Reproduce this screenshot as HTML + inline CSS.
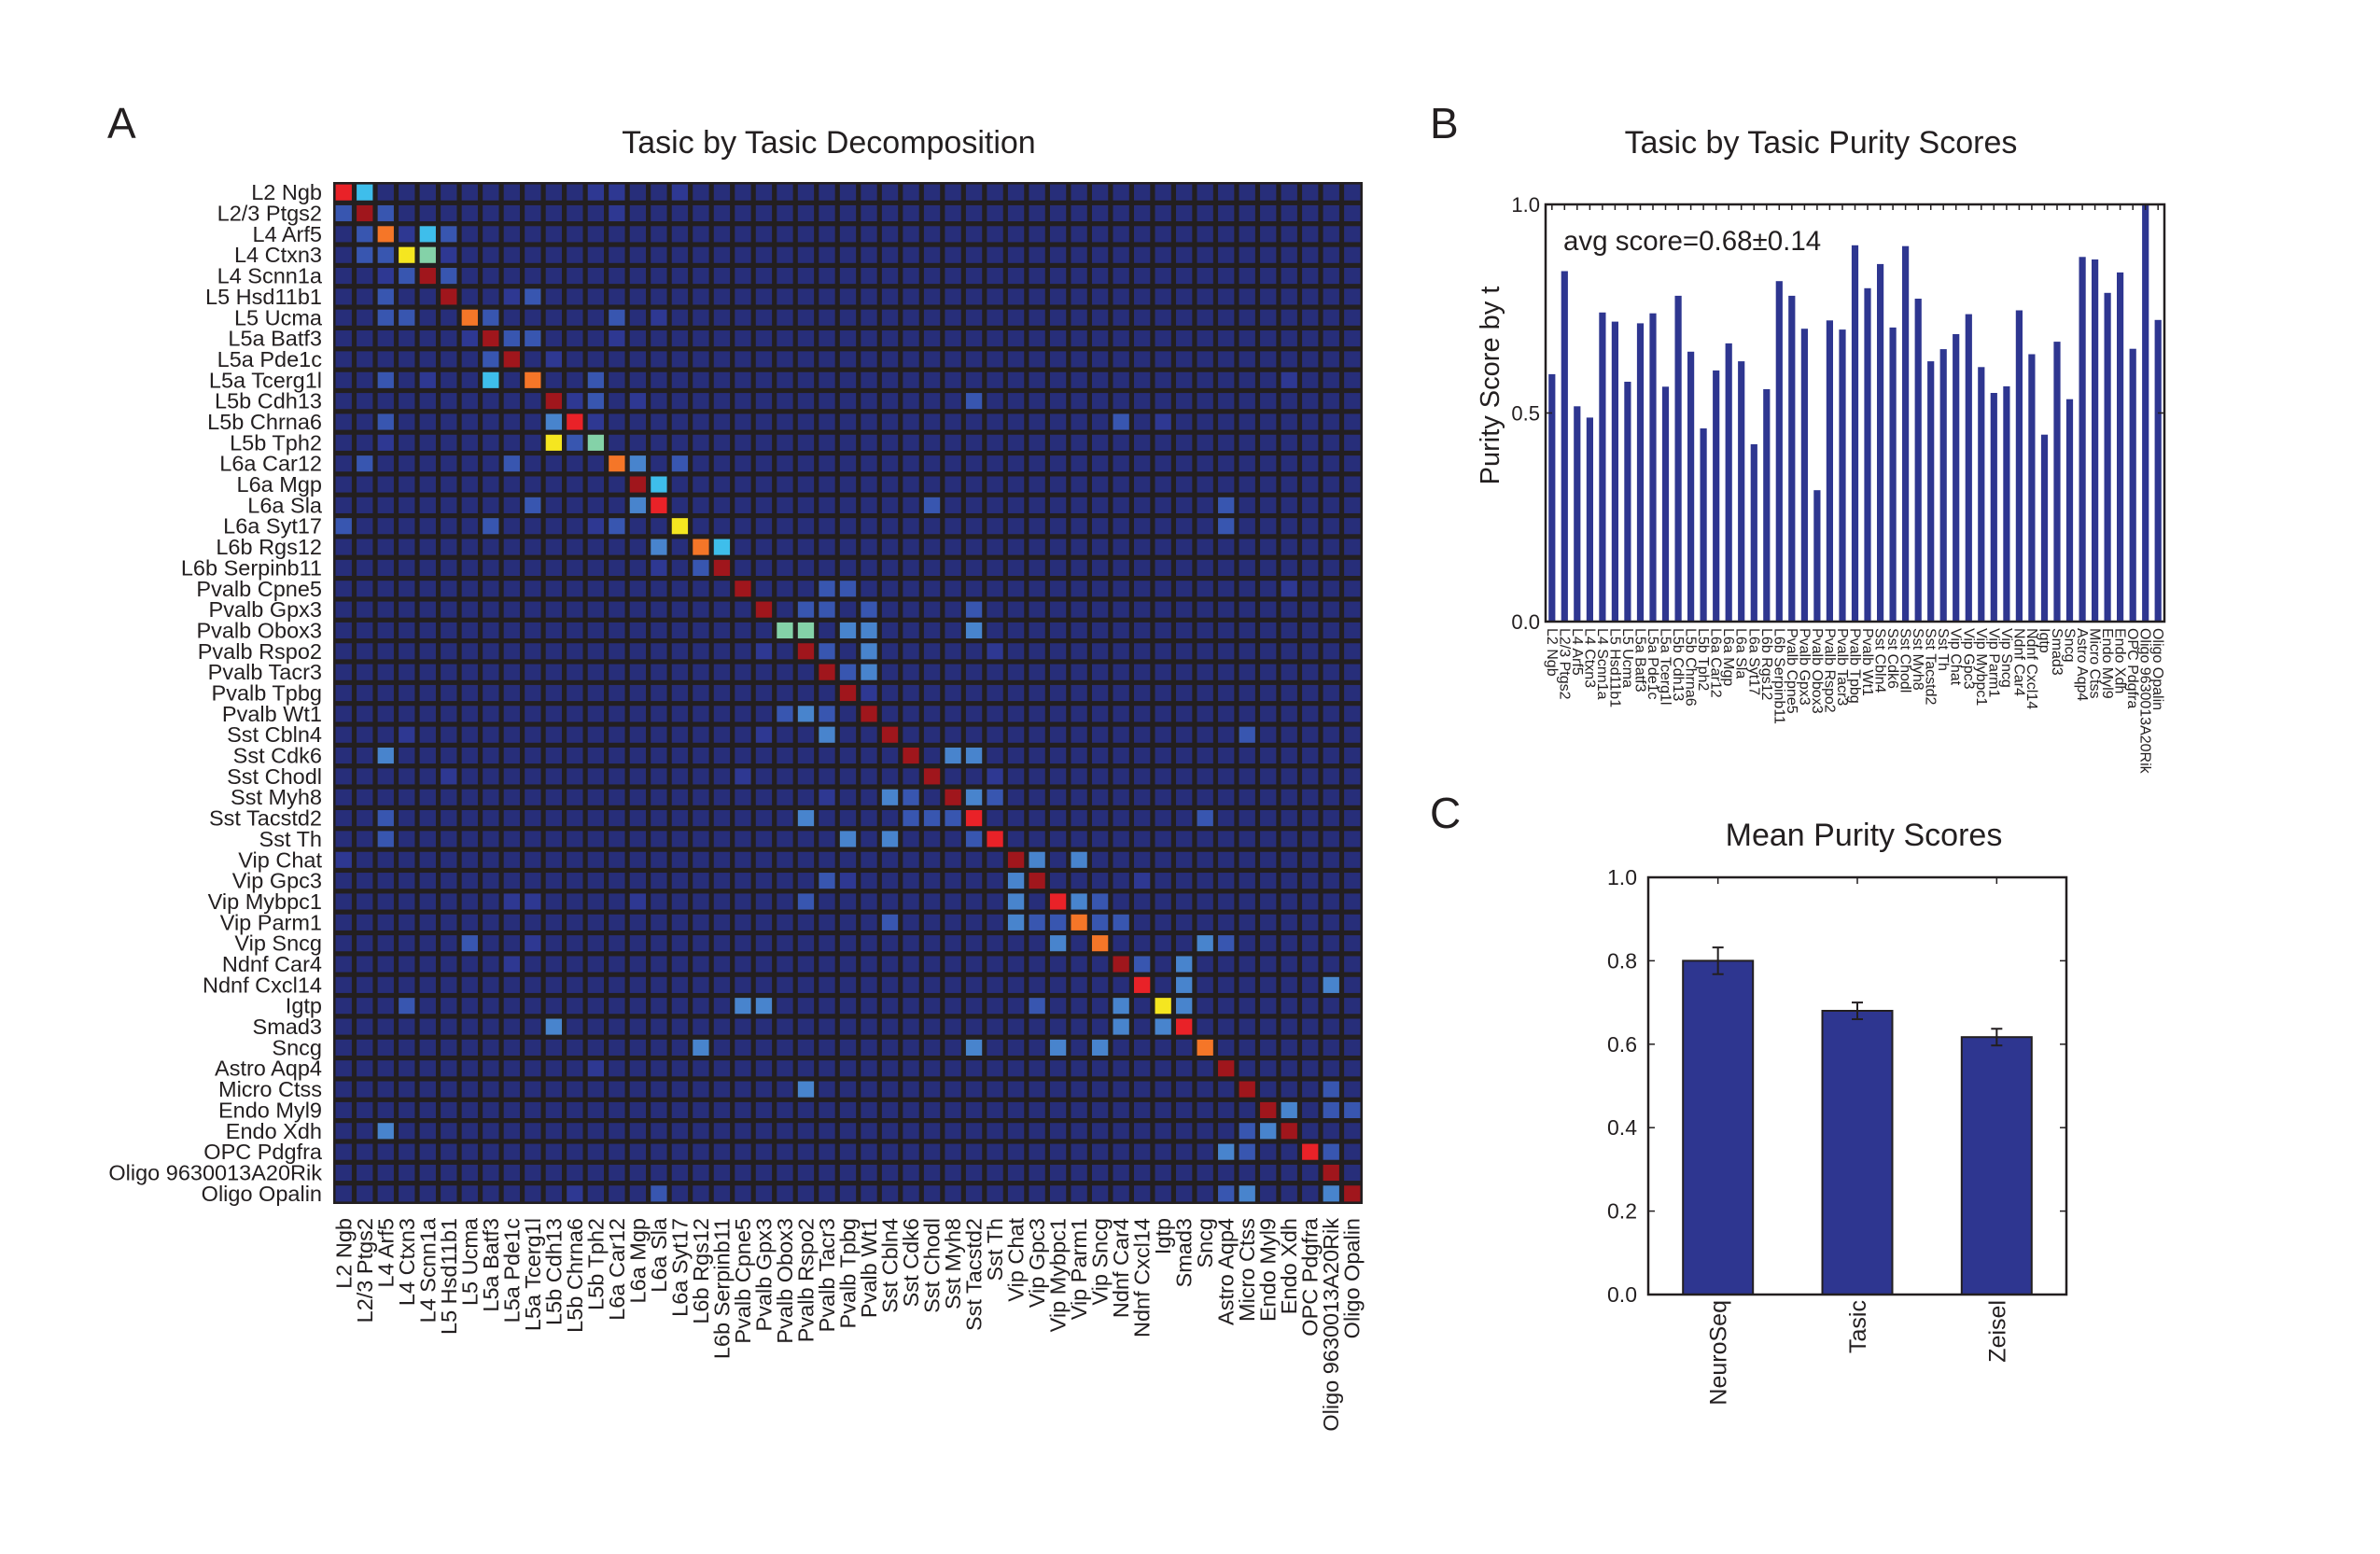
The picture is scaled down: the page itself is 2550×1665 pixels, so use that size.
<!DOCTYPE html>
<html><head><meta charset="utf-8"><style>
html,body{margin:0;padding:0;background:#fff;}
svg{display:block;font-family:"Liberation Sans",sans-serif;}
</style></head><body>
<svg id="fig" width="2550" height="1665" viewBox="0 0 2550 1665" xmlns="http://www.w3.org/2000/svg">
<text x="115" y="148" font-size="46" fill="#231f20">A</text>
<text x="1532" y="148" font-size="46" fill="#231f20">B</text>
<text x="1532" y="887" font-size="46" fill="#231f20">C</text>
<text x="888" y="164" font-size="34" text-anchor="middle" fill="#231f20">Tasic by Tasic Decomposition</text>
<text x="1951" y="164" font-size="34" text-anchor="middle" fill="#231f20">Tasic by Tasic Purity Scores</text>
<text x="1997" y="906" font-size="34" text-anchor="middle" fill="#231f20">Mean Purity Scores</text>
<g id="heat"></g>
<g id="barsB"></g>
<g id="barsC"></g>
</svg>
<script>
const categories = ["L2 Ngb","L2/3 Ptgs2","L4 Arf5","L4 Ctxn3","L4 Scnn1a","L5 Hsd11b1","L5 Ucma","L5a Batf3","L5a Pde1c","L5a Tcerg1l","L5b Cdh13","L5b Chrna6","L5b Tph2","L6a Car12","L6a Mgp","L6a Sla","L6a Syt17","L6b Rgs12","L6b Serpinb11","Pvalb Cpne5","Pvalb Gpx3","Pvalb Obox3","Pvalb Rspo2","Pvalb Tacr3","Pvalb Tpbg","Pvalb Wt1","Sst Cbln4","Sst Cdk6","Sst Chodl","Sst Myh8","Sst Tacstd2","Sst Th","Vip Chat","Vip Gpc3","Vip Mybpc1","Vip Parm1","Vip Sncg","Ndnf Car4","Ndnf Cxcl14","Igtp","Smad3","Sncg","Astro Aqp4","Micro Ctss","Endo Myl9","Endo Xdh","OPC Pdgfra","Oligo 9630013A20Rik","Oligo Opalin"];
// heatmap non-background cells: [row, col, level 0-9]
const heatCells = [
[0,0,8],[0,1,4],[0,12,1],[0,13,1],[0,16,1],
[1,0,2],[1,1,9],[1,2,2],[1,13,1],
[2,1,2],[2,2,7],[2,3,1],[2,4,4],[2,5,2],
[3,1,2],[3,2,2],[3,3,6],[3,4,5],[3,5,1],
[4,2,1],[4,3,2],[4,4,9],[4,5,2],
[5,2,2],[5,5,9],[5,8,1],[5,9,2],
[6,2,2],[6,3,2],[6,6,7],[6,7,2],[6,13,2],[6,15,1],
[7,6,1],[7,7,9],[7,8,2],[7,9,2],[7,13,1],
[8,7,2],[8,8,9],[8,10,1],
[9,2,2],[9,4,1],[9,7,4],[9,9,7],[9,12,2],[9,45,1],
[10,10,9],[10,11,1],[10,12,2],[10,14,1],[10,30,2],
[11,2,2],[11,10,3],[11,11,8],[11,12,1],[11,37,2],[11,39,1],
[12,2,1],[12,10,6],[12,11,2],[12,12,5],
[13,1,2],[13,8,2],[13,13,7],[13,14,3],[13,16,2],
[14,14,9],[14,15,4],
[15,9,2],[15,14,3],[15,15,8],[15,28,2],[15,42,2],
[16,0,2],[16,7,2],[16,12,1],[16,13,2],[16,16,6],[16,42,2],
[17,15,3],[17,17,7],[17,18,4],
[18,15,1],[18,17,2],[18,18,9],
[19,19,9],[19,23,2],[19,24,2],[19,45,1],
[20,20,9],[20,22,2],[20,23,2],[20,25,2],[20,30,2],
[21,21,5],[21,22,5],[21,24,3],[21,25,3],[21,30,3],
[22,20,1],[22,22,9],[22,23,2],[22,25,3],[22,31,1],
[23,23,9],[23,24,2],[23,25,3],
[24,24,9],[24,25,1],
[25,21,2],[25,22,3],[25,23,2],[25,25,9],
[26,3,1],[26,20,1],[26,23,3],[26,26,9],[26,43,2],
[27,2,3],[27,27,9],[27,29,3],[27,30,3],
[28,5,1],[28,19,1],[28,28,9],[28,31,1],
[29,23,1],[29,26,3],[29,27,2],[29,29,9],[29,30,3],[29,31,2],
[30,2,2],[30,22,3],[30,27,2],[30,28,2],[30,29,2],[30,30,8],[30,41,2],
[31,2,2],[31,24,3],[31,26,3],[31,30,2],[31,31,8],
[32,0,1],[32,32,9],[32,33,3],[32,35,3],
[33,23,2],[33,24,1],[33,32,3],[33,33,9],[33,38,1],
[34,8,1],[34,9,1],[34,14,1],[34,22,2],[34,32,3],[34,34,8],[34,35,3],[34,36,2],
[35,26,2],[35,32,3],[35,33,2],[35,34,2],[35,35,7],[35,36,2],[35,37,2],
[36,6,2],[36,9,1],[36,34,3],[36,36,7],[36,41,3],[36,42,2],
[37,8,1],[37,37,9],[37,38,2],[37,40,3],
[38,38,8],[38,40,3],[38,47,3],
[39,3,2],[39,19,3],[39,20,3],[39,33,2],[39,37,3],[39,39,6],[39,40,3],
[40,10,3],[40,37,3],[40,39,3],[40,40,8],
[41,17,3],[41,30,3],[41,34,3],[41,36,3],[41,41,7],
[42,12,1],[42,42,9],
[43,22,3],[43,43,9],[43,47,2],
[44,44,9],[44,45,3],[44,47,2],[44,48,2],
[45,2,3],[45,43,2],[45,44,3],[45,45,9],
[46,42,3],[46,43,2],[46,46,8],[46,47,2],
[47,47,9],
[48,11,1],[48,15,2],[48,42,2],[48,43,3],[48,47,3],[48,48,9]
];
const purity = [0.593,0.84,0.516,0.489,0.741,0.719,0.575,0.715,0.739,0.563,0.781,0.647,0.463,0.602,0.667,0.624,0.425,0.557,0.816,0.781,0.702,0.315,0.722,0.700,0.902,0.799,0.857,0.705,0.900,0.774,0.624,0.653,0.689,0.737,0.610,0.548,0.564,0.746,0.641,0.448,0.671,0.533,0.874,0.868,0.788,0.837,0.654,1.0,0.723];
const purityTicks = ["0.0","0.5","1.0"];
const meanCats = ["NeuroSeq","Tasic","Zeisel"];
const meanVals = [0.80,0.68,0.617];
const meanErr = [0.032,0.02,0.02];
const meanTicks = ["0.0","0.2","0.4","0.6","0.8","1.0"];

const NS="http://www.w3.org/2000/svg";
function mk(tag, attrs, parent){const e=document.createElementNS(NS,tag);for(const k in attrs)e.setAttribute(k,attrs[k]);parent.appendChild(e);return e;}
const palette=["rgb(39,46,122)","rgb(46,56,146)","rgb(56,86,176)","rgb(72,132,205)","rgb(62,190,235)","rgb(132,210,168)","rgb(245,230,32)","rgb(245,118,40)","rgb(233,34,40)","rgb(160,22,28)"];

// Heatmap
const heat=document.getElementById('heat');
const hx0=357,hy0=195,hW=1103,hH=1095,N=categories.length;
const cw=hW/N, ch=hH/N;
const hx=c=>hx0+c*cw, hy=r=>hy0+r*ch;
const bg=mk('rect',{x:hx0,y:hy0,width:hW,height:hH,fill:'#231f20'},heat);


const lev=[];for(let r=0;r<N;r++){lev.push(new Array(N).fill(0));}
heatCells.forEach(([r,c,v])=>{lev[r][c]=v;});
const g=2.6;
for(let r=0;r<N;r++)for(let c=0;c<N;c++){
  const e=mk('rect',{x:(hx(c)+g).toFixed(2),y:(hy(r)+g).toFixed(2),width:(cw-2*g).toFixed(2),height:(ch-2*g).toFixed(2),fill:palette[lev[r][c]]},heat);
  
  
}
categories.forEach((name,i)=>{
  const t=mk('text',{x:345,y:(hy(i)+ch/2+8).toFixed(1),'font-size':23.5,'text-anchor':'end',fill:'#231f20'},heat);
  t.textContent=name;
  
  
  const cx=hx(i)+cw/2+8, cy=1305;
  const b=mk('text',{x:cx.toFixed(1),y:cy,'font-size':23.5,'text-anchor':'end',fill:'#231f20',transform:`rotate(-90 ${cx.toFixed(1)} ${cy})`},heat);
  b.textContent=name;
  
  
});

// Panel B
const B=document.getElementById('barsB');
const bx0=1656,bx1=2319,by0=219,by1=666;
const bY=v=>by1-v*(by1-by0);
const bStep=(bx1-bx0)/N;
const bX=i=>bx0+(i+0.5)*bStep;
purity.forEach((v,i)=>{
  const e=mk('rect',{x:(bX(i)-3.6).toFixed(1),y:bY(v).toFixed(1),width:7.2,height:(by1-bY(v)).toFixed(1),fill:'#2e3690'},B);
  
  
  const tk=mk('line',{x1:bX(i).toFixed(1),x2:bX(i).toFixed(1),y1:by0,y2:by0+6,stroke:'#231f20','stroke-width':1.5},B);
  
  
  const lx=bX(i)-5, ly=673;
  const t=mk('text',{x:lx.toFixed(1),y:ly,'font-size':16,fill:'#231f20',transform:`rotate(90 ${lx.toFixed(1)} ${ly})`},B);
  t.textContent=categories[i];
  
  
});
const fr=mk('rect',{x:bx0,y:by0,width:bx1-bx0,height:by1-by0,fill:'none',stroke:'#231f20','stroke-width':2.5},B);


purityTicks.forEach(s=>{
  const v=parseFloat(s);
  const t=mk('text',{x:bx0-6,y:(bY(v)+8).toFixed(1),'font-size':22,'text-anchor':'end',fill:'#231f20'},B);
  t.textContent=s;
  
  
  mk('line',{x1:bx0,x2:bx0+7,y1:bY(v),y2:bY(v),stroke:'#231f20','stroke-width':1.5},B);
  mk('line',{x1:bx1-7,x2:bx1,y1:bY(v),y2:bY(v),stroke:'#231f20','stroke-width':1.5},B);
});
const yl=mk('text',{x:1606,y:413,'font-size':29,'text-anchor':'middle',fill:'#231f20',transform:'rotate(-90 1606 413)'},B);
yl.textContent='Purity Score by t';


const an=mk('text',{x:1675,y:268,'font-size':29.5,fill:'#231f20'},B);
an.textContent='avg score=0.68\u00b10.14';



// Panel C
const C=document.getElementById('barsC');
const cx0=1766,cx1=2214,cy0=940,cy1=1387;
const cY=v=>cy1-v*(cy1-cy0);
const cStep=(cx1-cx0)/meanCats.length;
const cX=i=>cx0+(i+0.5)*cStep;
meanVals.forEach((v,i)=>{
  const e=mk('rect',{x:(cX(i)-37.5).toFixed(1),y:cY(v).toFixed(1),width:75,height:(cy1-cY(v)).toFixed(1),fill:'#2e3690',stroke:'#231f20','stroke-width':2},C);
  
  
  const x=cX(i), e1=cY(v+meanErr[i]), e2=cY(v-meanErr[i]);
  const eb=mk('path',{d:`M${x} ${e1}V${e2}M${x-6} ${e1}H${x+6}M${x-6} ${e2}H${x+6}`,stroke:'#231f20','stroke-width':2,fill:'none'},C);
  
  
  mk('line',{x1:x,x2:x,y1:cy0,y2:cy0+7,stroke:'#231f20','stroke-width':1.5},C);
  const lx=x+9, ly=1393;
  const t=mk('text',{x:lx,y:ly,'font-size':25,'text-anchor':'end',fill:'#231f20',transform:`rotate(-90 ${lx} ${ly})`},C);
  t.textContent=meanCats[i];
  
  
});
const fc=mk('rect',{x:cx0,y:cy0,width:cx1-cx0,height:cy1-cy0,fill:'none',stroke:'#231f20','stroke-width':2.5},C);


meanTicks.forEach(s=>{
  const v=parseFloat(s);
  const t=mk('text',{x:cx0-12,y:(cY(v)+8).toFixed(1),'font-size':23,'text-anchor':'end',fill:'#231f20'},C);
  t.textContent=s;
  
  
  mk('line',{x1:cx0,x2:cx0+7,y1:cY(v),y2:cY(v),stroke:'#231f20','stroke-width':1.5},C);
  mk('line',{x1:cx1-7,x2:cx1,y1:cY(v),y2:cY(v),stroke:'#231f20','stroke-width':1.5},C);
});
</script>
</body></html>
